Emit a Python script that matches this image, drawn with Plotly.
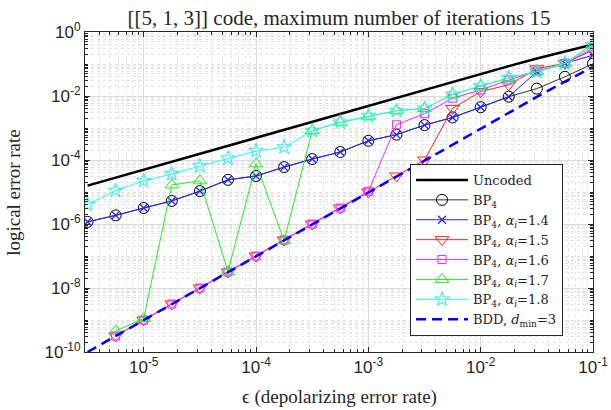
import plotly.graph_objects as go

# depolarizing error rate (x) -- 19 points, evenly spaced in log
eps = [3.162e-6, 5.623e-6, 1.0e-5, 1.778e-5, 3.162e-5, 5.623e-5, 1.0e-4,
       1.778e-4, 3.162e-4, 5.623e-4, 1.0e-3, 1.778e-3, 3.162e-3, 5.623e-3,
       1.0e-2, 1.778e-2, 3.162e-2, 5.623e-2, 1.0e-1]

uncoded = [1.58e-5, 2.81e-5, 5.0e-5, 8.89e-5, 1.58e-4, 2.81e-4, 5.0e-4,
           8.89e-4, 1.58e-3, 2.81e-3, 4.99e-3, 8.86e-3, 1.57e-2, 2.78e-2,
           4.90e-2, 8.58e-2, 1.49e-1, 2.51e-1, 4.10e-1]

bp4 = [1.17e-6, 1.86e-6, 3.16e-6, 5.25e-6, 1.07e-5, 2.4e-5, 3.16e-5,
       6.0e-5, 1.07e-4, 1.78e-4, 3.98e-4, 6.2e-4, 1.23e-3, 2.14e-3,
       4.47e-3, 9.5e-3, 1.7e-2, 3.98e-2, 1.02e-1]

bp4_a14 = [1.17e-6, 1.86e-6, 3.16e-6, 5.25e-6, 1.07e-5, 2.4e-5, 3.16e-5,
           6.0e-5, 1.07e-4, 1.78e-4, 3.98e-4, 6.2e-4, 1.23e-3, 2.14e-3,
           4.47e-3, 9.5e-3, 5.75e-2, 1.05e-1, 1.9e-1]

bp4_a15 = [None, 3.16e-10, 1.0e-9, 3.16e-9, 1.0e-8, 3.16e-8, 1.0e-7,
           3.16e-7, 1.0e-6, 3.16e-6, 1.0e-5, 3.16e-5, 1.0e-4, 4.1e-3,
           1.38e-2, 2.24e-2, 7.1e-2, 1.05e-1, 2.75e-1]

bp4_a16 = [None, 3.16e-10, 1.0e-9, 3.16e-9, 1.0e-8, 3.16e-8, 1.0e-7,
           3.16e-7, 1.0e-6, 3.16e-6, 1.05e-5, 1.26e-3, 2.8e-3, 8.5e-3,
           1.55e-2, 3.16e-2, 6.0e-2, 1.05e-1, 3.16e-1]

bp4_a17 = [None, 4.5e-10, 1.12e-9, 1.66e-5, 2.24e-5, 3.24e-8, 7.6e-5,
           3.0e-7, 8.3e-4, 1.51e-3, 2.34e-3, 3.47e-3, 4.07e-3, 1.12e-2,
           2.04e-2, 3.72e-2, 5.75e-2, 1.05e-1, 4.2e-1]

bp4_a18 = [4.07e-6, 1.1e-5, 2.24e-5, 3.63e-5, 6.46e-5, 1.12e-4, 1.9e-4,
           2.51e-4, 8.3e-4, 1.51e-3, 2.34e-3, 3.47e-3, 4.07e-3, 1.12e-2,
           2.04e-2, 3.72e-2, 5.75e-2, 1.05e-1, 4.0e-1]

bdd = [1.0e-10, 3.16e-10, 1.0e-9, 3.16e-9, 1.0e-8, 3.16e-8, 1.0e-7,
       3.16e-7, 9.98e-7, 3.16e-6, 9.98e-6, 3.15e-5, 9.94e-5, 3.13e-4,
       9.80e-4, 3.05e-3, 9.38e-3, 2.82e-2, 8.15e-2]

xtick_vals = [1e-5, 1e-4, 1e-3, 1e-2, 1e-1]
xtick_text = ["10<sup>-5</sup>", "10<sup>-4</sup>", "10<sup>-3</sup>",
              "10<sup>-2</sup>", "10<sup>-1</sup>"]
ytick_vals = [1e-10, 1e-8, 1e-6, 1e-4, 1e-2, 1e0]
ytick_text = ["10<sup>-10</sup>", "10<sup>-8</sup>", "10<sup>-6</sup>",
              "10<sup>-4</sup>", "10<sup>-2</sup>", "10<sup>0</sup>"]

serif = "Liberation Serif"
legend_serif = "DejaVu Serif"
sans = "Liberation Sans, Arial"

fig = go.Figure()

fig.add_trace(go.Scatter(x=eps, y=uncoded, mode="lines", name="Uncoded",
                         line=dict(color="black", width=2.5)))
fig.add_trace(go.Scatter(x=eps, y=bp4, mode="lines+markers", name="BP<sub>4</sub>",
                         line=dict(color="#333333", width=1),
                         marker=dict(symbol="circle-open", size=11, color="black",
                                     line=dict(width=1))))
fig.add_trace(go.Scatter(x=eps, y=bp4_a14, mode="lines+markers",
                         name="BP<sub>4</sub>, <i>α<sub>i</sub></i>=1.4",
                         line=dict(color="#2222ff", width=1),
                         marker=dict(symbol="x-thin-open", size=8, color="#2222ff",
                                     line=dict(width=1.3, color="#2222ff"))))
fig.add_trace(go.Scatter(x=eps, y=bp4_a15, mode="lines+markers",
                         name="BP<sub>4</sub>, <i>α<sub>i</sub></i>=1.5",
                         line=dict(color="#ff2222", width=1),
                         marker=dict(symbol="triangle-down-open", size=12, color="#ff2222",
                                     line=dict(width=1))))
fig.add_trace(go.Scatter(x=eps, y=bp4_a16, mode="lines+markers",
                         name="BP<sub>4</sub>, <i>α<sub>i</sub></i>=1.6",
                         line=dict(color="#ff22ff", width=1),
                         marker=dict(symbol="square-open", size=8, color="#ff22ff",
                                     line=dict(width=1))))
fig.add_trace(go.Scatter(x=eps, y=bp4_a17, mode="lines+markers",
                         name="BP<sub>4</sub>, <i>α<sub>i</sub></i>=1.7",
                         line=dict(color="#22ee22", width=1),
                         marker=dict(symbol="triangle-up-open", size=12, color="#22ee22",
                                     line=dict(width=1))))
fig.add_trace(go.Scatter(x=eps, y=bp4_a18, mode="lines+markers",
                         name="BP<sub>4</sub>, <i>α<sub>i</sub></i>=1.8",
                         line=dict(color="#22ffff", width=1),
                         marker=dict(symbol="star-open", size=11, color="#22eeee",
                                     line=dict(width=1))))
fig.add_trace(go.Scatter(x=eps, y=bdd, mode="lines",
                         name="BDD, <i>d</i><sub>min</sub>=3",
                         line=dict(color="#0000ff", width=2.5, dash="10px,6px")))

axis_common = dict(
    type="log", showline=True, linecolor="#262626", linewidth=1, mirror="allticks",
    ticks="inside", ticklen=5, tickcolor="#262626",
    showgrid=True, gridcolor="#dcdcdc", gridwidth=1,
    tickfont=dict(family=sans, size=17, color="#262626"),
    zeroline=False, automargin=False,
    minor=dict(dtick="D1", ticks="inside", ticklen=3, tickcolor="#262626",
               showgrid=True, gridcolor="#e4e4e4", griddash="dot", gridwidth=1),
)

fig.update_layout(
    width=611, height=410,
    margin=dict(l=85, r=18, t=32, b=58),
    paper_bgcolor="white", plot_bgcolor="white",
    title=dict(text="[[5, 1, 3]] code, maximum number of iterations 15",
               x=0.5, xanchor="center", xref="paper", yref="container",
               y=1 - 18 / 410, yanchor="middle",
               font=dict(family=serif, size=21, color="#262626")),
    xaxis=dict(axis_common, range=[-5.5229, -1], tickvals=xtick_vals, ticktext=xtick_text),
    yaxis=dict(axis_common, range=[-10, 0], tickvals=ytick_vals, ticktext=ytick_text),
    legend=dict(x=0.941, y=0.05, xanchor="right", yanchor="bottom",
                bgcolor="white", bordercolor="#262626", borderwidth=1,
                font=dict(family=legend_serif, size=13, color="#262626"),
                tracegroupgap=0, itemwidth=52),
    showlegend=True,
    annotations=[
        dict(text="ϵ (depolarizing error rate)", xref="paper", yref="paper",
             x=0.5, y=-0.14, xanchor="center", yanchor="middle", showarrow=False,
             font=dict(family=serif, size=19, color="#262626")),
        dict(text="logical error rate", xref="paper", yref="paper",
             x=-0.142, y=0.5, xanchor="center", yanchor="middle", showarrow=False,
             textangle=-90, font=dict(family=serif, size=19, color="#262626")),
    ],
)

fig.write_html("out.html")
